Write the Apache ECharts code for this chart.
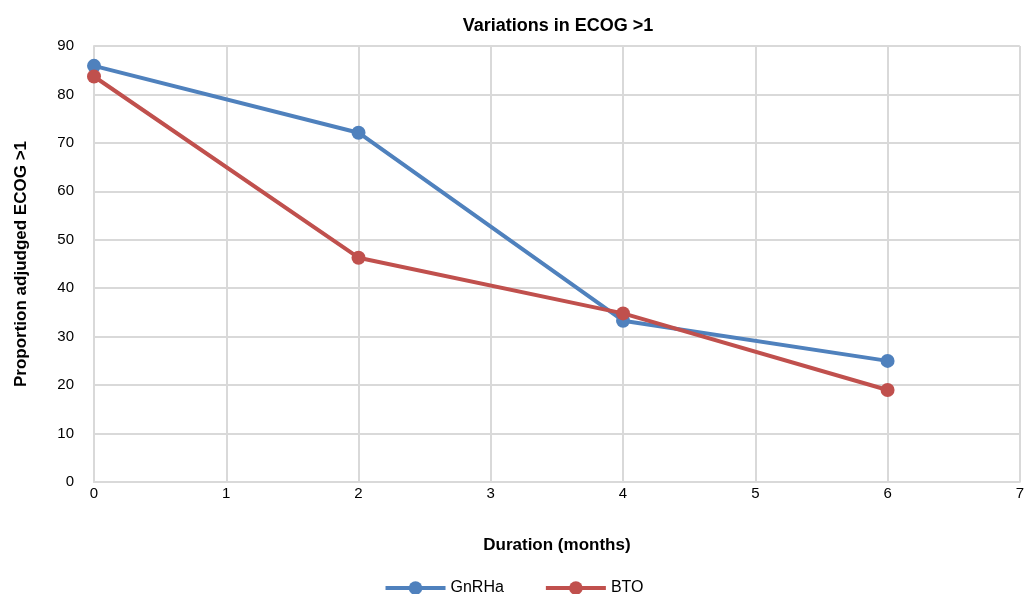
<!DOCTYPE html>
<html>
<head>
<meta charset="utf-8">
<script src="https://cdn.jsdelivr.net/npm/echarts@6/dist/echarts.min.js"></script>
<style>html,body{margin:0;padding:0;background:#fff;}#c{width:1027px;height:594px;}</style>
</head>
<body>
<div id="c"></div>
<script>
const months = [0, 2, 4, 6];
const gnrha = [85.9, 72.1, 33.3, 25.0];
const bto = [83.7, 46.3, 34.8, 19.0];
const seriesNames = ['GnRHa', 'BTO'];
const colors = ['#4F81BD', '#C0504D'];

const chart = echarts.init(document.getElementById('c'));
const font = 'Liberation Sans, Arial, sans-serif';
function pairs(xs, ys) { return xs.map((x, i) => [x, ys[i]]); }
chart.setOption({
  animation: false,
  textStyle: { fontFamily: font },
  title: { text: 'Variations in ECOG >1', left: 553, top: 12, textAlign: 'center',
    textStyle: { fontSize: 18, fontWeight: 'bold', color: '#000', fontFamily: font } },
  grid: { left: 94, right: 3, top: 46, bottom: 112 },
  legend: { top: 575, left: 'center', itemWidth: 60, itemHeight: 17, itemGap: 40,
    lineStyle: { width: 4 },
    textStyle: { fontSize: 16, color: '#000' }, data: seriesNames },
  xAxis: { type: 'value', min: 0, max: 7, interval: 1,
    name: 'Duration (months)', nameLocation: 'middle', nameGap: 55,
    nameTextStyle: { fontSize: 17, fontWeight: 'bold', color: '#000' },
    axisLine: { lineStyle: { color: '#d9d9d9', width: 2 } }, axisTick: { show: false },
    axisLabel: { fontSize: 15, color: '#000', margin: 4 },
    splitLine: { lineStyle: { color: '#d9d9d9', width: 2 } } },
  yAxis: { type: 'value', min: 0, max: 90, interval: 10,
    name: 'Proportion adjudged ECOG >1', nameLocation: 'middle', nameGap: 64, nameRotate: 90,
    nameTextStyle: { fontSize: 17, fontWeight: 'bold', color: '#000' },
    axisLine: { show: true, lineStyle: { color: '#d9d9d9', width: 2 } }, axisTick: { show: false },
    axisLabel: { fontSize: 15, color: '#000', margin: 20 },
    splitLine: { lineStyle: { color: '#d9d9d9', width: 2 } } },
  series: [
    { name: seriesNames[0], type: 'line', data: pairs(months, gnrha), color: colors[0],
      symbol: 'circle', symbolSize: 14, lineStyle: { width: 4 } },
    { name: seriesNames[1], type: 'line', data: pairs(months, bto), color: colors[1],
      symbol: 'circle', symbolSize: 14, lineStyle: { width: 4 } }
  ]
});
</script>
</body>
</html>
